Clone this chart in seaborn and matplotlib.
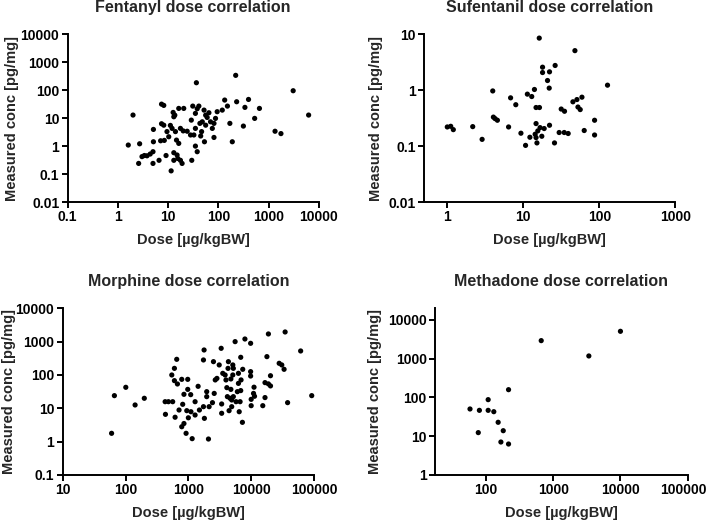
import numpy as np
import pandas as pd
import matplotlib
matplotlib.use("Agg")
import matplotlib.pyplot as plt
import matplotlib.transforms as mtransforms
import seaborn as sns

# ---------------- data ----------------
fentanyl_dose = [1.61, 2.0, 2.59, 2.71, 3.02, 3.36, 3.8, 4.4, 5.0, 5.1, 5.1, 5.0, 6.6,
                 7.4, 8.2, 7.4, 8.2, 7.1, 8.4, 9.1, 9.5, 10.3, 11.1, 11.5, 12, 12.6,
                 13, 13, 13, 13.6, 14, 14.7, 15.1, 15.6, 16.3, 16.3, 17.6, 17.6, 19,
                 20.5, 20, 24, 28, 29, 29.6, 31, 32.6, 35, 35, 35, 36.6, 38, 38, 41,
                 43, 44.6, 46.5, 48, 52, 53, 56, 56, 60, 65, 70, 76, 82, 82, 88, 95,
                 120, 134, 152, 170, 190, 222, 232, 316, 400, 339, 530, 660, 1350,
                 1770, 3100, 6300]
fentanyl_conc = [1.09, 12.9, 0.24, 1.21, 0.42, 0.46, 0.45, 0.52, 0.63, 3.95, 1.43, 0.24, 0.31,
                 31.7, 28.6, 6.3, 5.6, 1.55, 1.6, 0.46, 3.3, 2.16, 5.5, 0.13, 4.3, 16,
                 11.2, 0.58, 0.31, 12.8, 3.3, 1.64, 0.48, 0.36, 22.3, 1.25, 4.3, 0.31, 0.24,
                 22.3, 3.5, 3.4, 2.5, 8.5, 0.31, 27, 2.5, 14.8, 4.3, 1.0, 185, 0.63, 21.7, 27,
                 6.5, 2.3, 3.3, 7.4, 19.4, 1.43, 12.8, 5.6, 10.6, 15.6, 7.4, 4.3, 6.5, 2.04, 9.8, 17,
                 19.4, 44.4, 27, 6.5, 1.43, 340, 38.6, 5.2, 46.7, 24.3, 9.8, 22.3, 3.4,
                 2.8, 95.7, 12.9]

sufentanil_dose = [16.2, 47.7, 17.9, 26.2, 17.9, 22.1, 20.8, 21.9, 128, 3.96, 14, 11.3, 12.9,
                   6.8, 7.96, 14.7, 16.3, 31.5, 34.8, 44.9, 50.7, 59, 52.3, 56, 4.04, 4.25,
                   4.56, 1.0, 1.11, 1.2, 2.16, 2.87, 6.4, 9.3, 10.7, 12.2, 14.7, 14.3, 14.7,
                   15.1, 15.5, 16.6, 17.5, 18.8, 22.1, 25.7, 29.6, 34.5, 38.9, 63.2, 86.5, 86.5]
sufentanil_conc = [8.55, 5.1, 2.58, 2.77, 2.07, 2.13, 1.49, 1.09, 1.23, 0.97, 1.03, 0.85, 0.77,
                   0.73, 0.55, 0.49, 0.49, 0.46, 0.42, 0.62, 0.68, 0.75, 0.50, 0.45, 0.33, 0.31,
                   0.29, 0.22, 0.226, 0.197, 0.223, 0.132, 0.22, 0.17, 0.103, 0.144, 0.253, 0.163, 0.142,
                   0.114, 0.187, 0.214, 0.15, 0.206, 0.236, 0.114, 0.175, 0.175, 0.168, 0.19, 0.29, 0.158]

morphine_dose = [60, 66.5, 101, 142, 199, 427, 482, 432, 563, 545, 600, 653, 600, 670, 615,
                 711, 785, 978, 813, 851, 785, 851, 920, 944, 978, 1090, 1000, 1100, 1150,
                 1280, 1280, 1430, 1500, 1740, 1780, 1740, 1800, 1960, 1960, 2090, 2140, 2420,
                 2510, 2580, 2680, 2850, 3100, 3330, 3390, 3390, 3530, 3850, 3970, 4100, 4180,
                 4280, 4340, 4450, 4620, 4750, 4750, 4900, 4900, 5100, 5100, 5200, 5200, 5550,
                 5750, 6030, 6270, 6270, 6450, 6660, 6820, 6820, 6900, 7250, 7340, 7950, 9800,
                 9800, 9800, 10000, 10000, 10900, 11300, 11100, 15300, 16600, 16600, 17800,
                 18800, 18800, 20300, 20300, 27900, 30700, 33400, 34700, 38000, 61300, 92000]
morphine_conc = [1.78, 24, 42.7, 12.6, 20, 15.8, 15.8, 6.6, 15.8, 100, 158, 295, 67.6, 53.7, 5.4,
                 8.9, 74, 74, 13.2, 26.3, 2.8, 3.5, 1.78, 8.5, 37, 25.7, 5.2, 7.9, 1.23,
                 6.3, 15.8, 45.7, 8.9, 282, 562, 11.2, 5.0, 31.6, 22.4, 1.2, 11.2, 14.8,
                 251, 28, 71, 79, 200, 631, 13.5, 7.1, 112, 100, 71, 41.7, 22.4,
                 158, 251, 8.5, 20, 37, 76, 11.2, 17.8, 200, 100, 158, 22.4, 1000,
                 15.8, 31.6, 112, 56, 7.9, 15.8, 339, 34, 71, 3.8, 148, 1200, 891,
                 126, 93, 18.6, 12, 28, 23, 43, 12, 21, 59, 355,
                 1700, 54, 47, 95, 224, 200, 148, 1950, 14.8, 525, 24]

methadone_dose = [58, 80, 108, 108, 131, 152, 181, 167, 217, 77, 217, 664, 3390, 10000]
methadone_conc = [50.5, 46.6, 87.9, 46.6, 43, 22.9, 13.9, 7.1, 6.3, 12.4, 159, 2930, 1178, 5100]

titles = ["Fentanyl dose correlation", "Sufentanil dose correlation",
          "Morphine dose correlation", "Methadone dose correlation"]
xlabel = "Dose [µg/kgBW]"
ylabel = "Measured conc [pg/mg]"

fent_xticks = [0.1, 1, 10, 100, 1000, 10000]
fent_yticks = [0.01, 0.1, 1, 10, 100, 1000, 10000]
suf_xticks = [1, 10, 100, 1000]
suf_yticks = [0.01, 0.1, 1, 10]
mor_xticks = [10, 100, 1000, 10000, 100000]
mor_yticks = [0.1, 1, 10, 100, 1000, 10000]
met_xticks = [100, 1000, 10000, 100000]
met_yticks = [1, 10, 100, 1000, 10000]

# ---------------- style ----------------
sns.set_style("ticks")
plt.rcParams["font.family"] = ["Liberation Sans", "DejaVu Sans"]
plt.rcParams["font.weight"] = "bold"
plt.rcParams["axes.labelweight"] = "bold"
plt.rcParams["axes.titleweight"] = "bold"

W, H = 709, 520
fig = plt.figure(figsize=(W / 100, H / 100), dpi=100)

def px_axes(left, top, right, bottom):
    return fig.add_axes([left / W, 1 - bottom / H, (right - left) / W, (bottom - top) / H])

# last value: pixel x of the right (baseline-side) edge of the y label, or None for auto
panels = [
    (px_axes(67.7, 34.3, 318.7, 202.0), fentanyl_dose, fentanyl_conc, fent_xticks, fent_yticks,
     (0.1, 10000), (0.01, 10000), titles[0], 19.0),
    (px_axes(424.4, 34.3, 675.4, 202.0), sufentanil_dose, sufentanil_conc, suf_xticks, suf_yticks,
     (0.5, 1000), (0.01, 10), titles[1], None),
    (px_axes(62.7, 308.3, 314.0, 475.0), morphine_dose, morphine_conc, mor_xticks, mor_yticks,
     (10, 100000), (0.1, 10000), titles[2], 16.0),
    (px_axes(435.0, 308.3, 687.7, 475.0), methadone_dose, methadone_conc, met_xticks, met_yticks,
     (17.5, 100000), (1, 20000), titles[3], None),
]

def fmt(v):
    return f"{v:g}" if v < 1 else f"{int(v)}"

for ax, xd, yd, xt, yt, xl, yl, title, ylab_x in panels:
    df = pd.DataFrame({"dose": xd, "conc": yd})
    sns.scatterplot(data=df, x="dose", y="conc", ax=ax, color="black", s=14,
                    linewidth=0, edgecolor="none", clip_on=False)
    ax.set_xscale("log")
    ax.set_yscale("log")
    ax.set_xlim(*xl)
    ax.set_ylim(*yl)
    ax.set_xticks(xt)
    ax.set_xticklabels([fmt(v) for v in xt])
    ax.set_yticks(yt)
    ax.set_yticklabels([fmt(v) for v in yt])
    ax.minorticks_off()
    for s in ["top", "right"]:
        ax.spines[s].set_visible(False)
    for s in ["left", "bottom"]:
        ax.spines[s].set_linewidth(1.4)
        ax.spines[s].set_color("black")
    ax.tick_params(axis="both", which="major", length=4.5, width=1.4, color="black",
                   labelsize=10, pad=1.5, labelcolor="black")
    for lab in ax.get_xticklabels() + ax.get_yticklabels():
        lab.set_fontweight("bold")
    ax.set_xlabel(xlabel, fontsize=10.5, fontweight="bold", labelpad=6)
    ax.set_ylabel(ylabel, fontsize=10.5, fontweight="bold", labelpad=4)
    if ylab_x is not None:
        bb = ax.get_position()
        ax.yaxis.set_label_coords((ylab_x / W - bb.x0) / bb.width, 0.5)
    ax.set_title(title, fontsize=11.5, fontweight="bold", pad=16)

# keep the last methadone tick label inside the canvas
last = panels[3][0].get_xticklabels()[-1]
last.set_transform(last.get_transform() + mtransforms.ScaledTranslation(-4 / 100, 0, fig.dpi_scale_trans))

fig.savefig("out.png", dpi=100, facecolor="white")
